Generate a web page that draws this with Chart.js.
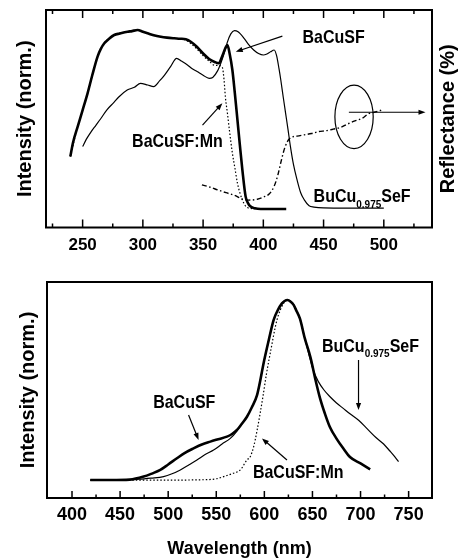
<!DOCTYPE html>
<html>
<head>
<meta charset="utf-8">
<script src="https://cdn.jsdelivr.net/npm/chart.js@4.4.1/dist/chart.umd.min.js"></script>
<style>
  html, body { margin: 0; padding: 0; background: #fff; }
  body { width: 461px; height: 560px; position: relative; overflow: hidden; }
  .box { position: absolute; left: 0; width: 461px; }
  #topBox { top: 0; height: 270px; }
  #botBox { top: 270px; height: 290px; }
</style>
</head>
<body>
<div class="box" id="topBox"><canvas id="topChart" width="461" height="270"></canvas></div>
<div class="box" id="botBox"><canvas id="botChart" width="461" height="290"></canvas></div>
<script>
// wavelength ticks
const topMajor = [250, 300, 350, 400, 450, 500];
const topMinor = [225, 275, 325, 375, 425, 475, 525];
const botMajor = [400, 450, 500, 550, 600, 650, 700, 750];
const botMinor = [425, 475, 525, 575, 625, 675, 725];

// top panel: excitation spectra [nm, norm. intensity]
const excBaCuSF = [[239.8,0.326],[242,0.39],[245.9,0.464],[250,0.54],[254.1,0.617],[258,0.7],[262.4,0.786],[265,0.82],[268,0.847],[272,0.868],[276.2,0.885],[281,0.892],[287.3,0.9],[291,0.903],[295.6,0.908],[300,0.9],[303.9,0.893],[309,0.884],[314.9,0.877],[320,0.873],[326,0.87],[331,0.868],[335.6,0.865],[339.8,0.854],[345,0.83],[350,0.8],[355,0.775],[360,0.76],[363,0.755],[366,0.79],[368.5,0.825],[370.2,0.839],[372,0.8],[374.3,0.724],[376.3,0.62],[378.5,0.495],[380.5,0.38],[382.6,0.265],[385.3,0.142],[387.5,0.11],[389.5,0.096],[393,0.088],[397.8,0.085],[405,0.085],[419,0.085]];
const excBaCuSFMn = [[239.8,0.326],[245.9,0.464],[254.1,0.617],[262.4,0.786],[268,0.847],[276.2,0.885],[287.3,0.9],[295.6,0.908],[303.9,0.893],[314.9,0.877],[326,0.87],[335.6,0.862],[340,0.845],[345,0.82],[350,0.79],[355,0.765],[360,0.745],[363,0.745],[366,0.735],[367.4,0.678],[368.5,0.6],[370.2,0.525],[372,0.44],[374.3,0.342],[376.5,0.27],[378.5,0.204],[380.5,0.16],[382.6,0.127],[385,0.1],[388,0.089],[395,0.086]];
const excBuCuSeF = [[250,0.372],[253,0.405],[257,0.44],[261,0.47],[265,0.5],[270,0.54],[276,0.575],[280,0.6],[287,0.632],[293,0.645],[298,0.663],[304,0.655],[309,0.648],[314,0.675],[318,0.701],[323,0.74],[328,0.778],[332,0.765],[337,0.747],[341,0.73],[345,0.717],[350,0.7],[355,0.686],[358,0.69],[362,0.72],[365,0.76],[368,0.81],[370,0.85],[373,0.89],[376,0.905],[379,0.9],[384,0.87],[388,0.84],[392,0.816],[396,0.8],[400,0.793],[403,0.798],[406,0.808],[409,0.816],[411,0.79],[413,0.73],[414.5,0.678],[416.5,0.6],[418.5,0.525],[420.5,0.45],[422.5,0.372],[425,0.29],[428,0.219],[431,0.16],[434,0.127],[438,0.1],[442,0.094],[450,0.09],[470,0.089],[500,0.089]];
const reflBuCuSeF = [[349,0.196],[356,0.185],[362,0.173],[369,0.16],[376,0.148],[382,0.132],[388,0.126],[395,0.13],[400,0.14],[405,0.155],[409,0.19],[412,0.24],[415,0.31],[418,0.37],[422,0.41],[428,0.42],[434,0.426],[440,0.432],[446,0.441],[452,0.445],[458,0.452],[464,0.46],[470,0.476],[476,0.49],[482,0.502],[487,0.522],[492,0.53],[499,0.541]];

// bottom panel: emission spectra [nm, norm. intensity]
const emBaCuSF = [[419,0.083],[440,0.083],[460,0.085],[474.5,0.099],[483,0.113],[491.8,0.13],[500,0.155],[509.1,0.184],[517,0.208],[526.4,0.23],[535,0.248],[543.8,0.261],[552,0.272],[561.1,0.284],[566,0.295],[571.5,0.315],[576,0.34],[581.9,0.376],[587,0.42],[592.3,0.475],[596,0.55],[599.2,0.624],[604,0.72],[609.6,0.824],[614,0.87],[618.3,0.901],[621,0.912],[624.2,0.917],[627,0.91],[630.4,0.894],[633,0.87],[637,0.83],[642,0.74],[648,0.65],[653,0.55],[658,0.46],[663,0.39],[668,0.33],[675,0.275],[682,0.23],[689,0.19],[700,0.16],[710,0.133]];
const emBaCuSFMn = [[419,0.083],[450,0.083],[500,0.083],[540,0.085],[550,0.089],[557.6,0.099],[566,0.112],[575,0.13],[581.9,0.176],[585.3,0.191],[589,0.24],[592.3,0.31],[598.5,0.469],[602,0.57],[606.1,0.67],[613.1,0.824],[620,0.901],[624.2,0.917],[627,0.91],[630.4,0.894],[633,0.87],[637,0.83],[642,0.74],[648,0.65],[653,0.55],[658,0.46],[663,0.39],[668,0.33],[675,0.275],[682,0.23],[689,0.19],[700,0.16],[710,0.133]];
const emBuCuSeF = [[419,0.083],[450,0.083],[470,0.087],[482,0.092],[495.2,0.099],[504,0.112],[512.6,0.13],[521,0.152],[529.9,0.176],[538,0.2],[547.2,0.222],[556,0.25],[564.6,0.276],[571.5,0.31],[576,0.34],[581.9,0.376],[587,0.42],[592.3,0.475],[596,0.55],[599.2,0.624],[604,0.72],[609.6,0.824],[614,0.87],[618.3,0.901],[621,0.912],[624.2,0.917],[627,0.91],[630.4,0.894],[633,0.87],[637,0.83],[642,0.74],[646,0.67],[651,0.59],[656,0.54],[662,0.5],[668,0.47],[675,0.44],[682,0.415],[689,0.39],[698,0.36],[707,0.32],[716,0.28],[724,0.25],[730,0.22],[734,0.2],[739.5,0.168]];

const FONT = '"Liberation Sans", Arial, Helvetica, sans-serif';
Chart.defaults.font.family = FONT;
Chart.defaults.color = '#000';

function xy(arr) {
    return arr.map(p => ({x: p[0], y: p[1]}));
}

function line(data, width, dash, axis) {
    return {
        data: xy(data),
        borderColor: '#000',
        borderWidth: width,
        borderDash: dash || [],
        pointRadius: 0,
        fill: false,
        cubicInterpolationMode: 'monotone',
        yAxisID: axis || 'y'
    };
}

// frame + inward tick marks
const frameTicks = {
    id: 'frameTicks',
    afterDraw(chart, args, o) {
        const {ctx, chartArea: a} = chart;
        const x = chart.scales.x;
        ctx.save();
        ctx.strokeStyle = '#000';
        ctx.lineWidth = 1.5;
        ctx.beginPath();
        const mark = (v, len) => {
            const px = x.getPixelForValue(v);
            ctx.moveTo(px, a.bottom);
            ctx.lineTo(px, a.bottom - len);
            if (o.top) {
                ctx.moveTo(px, a.top);
                ctx.lineTo(px, a.top + len);
            }
        };
        o.major.forEach(v => mark(v, o.majorLen));
        o.minor.forEach(v => mark(v, o.minorLen));
        ctx.stroke();
        ctx.lineWidth = 2;
        ctx.strokeRect(a.left, a.top, a.right - a.left, a.bottom - a.top);
        ctx.restore();
    }
};

function drawLabel(ctx, parts, x, y, align) {
    let w = 0;
    parts.forEach(p => {
        ctx.font = 'bold ' + p[1] + 'px ' + FONT;
        w += ctx.measureText(p[0]).width;
    });
    let cx = align === 'center' ? x - w / 2 : x;
    parts.forEach(p => {
        ctx.font = 'bold ' + p[1] + 'px ' + FONT;
        ctx.save();
        ctx.translate(cx, y + (p[2] || 0));
        ctx.scale(1, 1.12);
        ctx.textAlign = 'left';
        ctx.textBaseline = 'alphabetic';
        ctx.fillText(p[0], 0, 0);
        ctx.restore();
        cx += ctx.measureText(p[0]).width;
    });
}

function arrow(ctx, x0, y0, x1, y1) {
    const ang = Math.atan2(y1 - y0, x1 - x0);
    const L = 7, H = 2.6;
    ctx.lineWidth = 1.2;
    ctx.beginPath();
    ctx.moveTo(x0, y0);
    ctx.lineTo(x1 - Math.cos(ang) * L * 0.8, y1 - Math.sin(ang) * L * 0.8);
    ctx.stroke();
    ctx.beginPath();
    ctx.moveTo(x1, y1);
    ctx.lineTo(x1 - Math.cos(ang) * L - Math.sin(ang) * H, y1 - Math.sin(ang) * L + Math.cos(ang) * H);
    ctx.lineTo(x1 - Math.cos(ang) * L + Math.sin(ang) * H, y1 - Math.sin(ang) * L - Math.cos(ang) * H);
    ctx.closePath();
    ctx.fill();
}

const notes = {
    id: 'notes',
    afterDraw(chart, args, o) {
        const {ctx, chartArea: a} = chart;
        const X = v => chart.scales.x.getPixelForValue(v);
        const Y = v => chart.scales.y.getPixelForValue(v);
        ctx.save();
        ctx.fillStyle = '#000';
        ctx.strokeStyle = '#000';
        (o.labels || []).forEach(l => drawLabel(ctx, l.parts, X(l.x), Y(l.y), l.align));
        (o.arrows || []).forEach(r => arrow(ctx, X(r[0]), Y(r[1]), X(r[2]), Y(r[3])));
        if (o.ellipse) {
            const e = o.ellipse;
            ctx.lineWidth = 1.2;
            ctx.beginPath();
            ctx.ellipse(X(e.x), Y(e.y), Math.abs(X(e.x + e.rx) - X(e.x)), Math.abs(Y(e.y + e.ry) - Y(e.y)), 0, 0, Math.PI * 2);
            ctx.stroke();
        }
        if (o.sideTitle) {
            ctx.save();
            ctx.translate(a.right + 16, (a.top + a.bottom) / 2);
            ctx.rotate(-Math.PI / 2);
            ctx.font = 'bold 20px ' + FONT;
            ctx.textAlign = 'center';
            ctx.textBaseline = 'middle';
            ctx.fillText(o.sideTitle, 0, 0);
            ctx.restore();
        }
        ctx.restore();
    }
};

function xAxis(min, max, major, size, pad, height, title) {
    return {
        type: 'linear',
        position: 'bottom',
        min: min,
        max: max,
        grid: {display: false, drawTicks: false},
        border: {display: false},
        ticks: {font: {size: size, weight: 'bold'}, padding: pad, color: '#000', maxRotation: 0, autoSkip: false},
        title: title ? {display: true, text: title, font: {size: 18, weight: 'bold'}, padding: {top: 0, bottom: 0}, color: '#000'} : {display: false},
        afterBuildTicks: s => { s.ticks = major.map(v => ({value: v})); },
        afterFit: s => { s.height = height; }
    };
}

function yAxis(width, titlePad) {
    return {
        min: 0,
        max: 1,
        ticks: {display: false},
        grid: {display: false, drawTicks: false},
        border: {display: false},
        title: {display: true, text: 'Intensity (norm.)', font: {size: 20, weight: 'bold'}, padding: {top: titlePad, bottom: 0}, color: '#000'},
        afterFit: s => { s.width = width; }
    };
}

new Chart(document.getElementById('topChart'), {
    type: 'line',
    data: {
        datasets: [
            line(excBaCuSF, 2.6),
            line(excBuCuSeF, 1.2),
            line(excBaCuSFMn, 1.2, [1.5, 2]),
            line(reflBuCuSeF, 1.4, [5, 2.5, 1.5, 2.5], 'y1')
        ]
    },
    options: {
        responsive: false,
        animation: false,
        layout: {padding: {top: 10, left: 0, right: 0, bottom: 0}},
        plugins: {
            legend: {display: false},
            tooltip: {enabled: false},
            frameTicks: {major: topMajor, minor: topMinor, majorLen: 8, minorLen: 4, top: true},
            notes: {
                labels: [
                    {parts: [['BaCuSF', 16]], x: 458.3, y: 0.848, align: 'center'},
                    {parts: [['BaCuSF:Mn', 16]], x: 328.7, y: 0.372, align: 'center'},
                    {parts: [['BuCu', 16], ['0.975', 10, 6], ['SeF', 16]], x: 441.7, y: 0.117, align: 'left'}
                ],
                arrows: [
                    [415.8, 0.880, 377.1, 0.808],
                    [349.5, 0.471, 366, 0.571],
                    [471, 0.53, 534.6, 0.53]
                ],
                ellipse: {x: 475.3, y: 0.509, rx: 15.9, ry: 0.146},
                sideTitle: 'Reflectance (%)'
            }
        },
        scales: {
            x: xAxis(219.6, 540, topMajor, 17, 8, 42.5),
            y: yAxis(46, 13),
            y1: {
                position: 'right',
                min: 0,
                max: 1,
                ticks: {display: false},
                grid: {display: false, drawTicks: false},
                border: {display: false},
                afterFit: s => { s.width = 29; }
            }
        }
    },
    plugins: [frameTicks, notes]
});

new Chart(document.getElementById('botChart'), {
    type: 'line',
    data: {
        datasets: [
            line(emBaCuSF, 2.6),
            line(emBuCuSeF, 1.2),
            line(emBaCuSFMn, 1.2, [1.5, 2])
        ]
    },
    options: {
        responsive: false,
        animation: false,
        layout: {padding: {top: 12, left: 0, right: 29, bottom: 0}},
        plugins: {
            legend: {display: false},
            tooltip: {enabled: false},
            frameTicks: {major: botMajor, minor: botMinor, majorLen: 7, minorLen: 3.5, top: false},
            notes: {
                labels: [
                    {parts: [['BaCuSF', 16]], x: 516.7, y: 0.417, align: 'center'},
                    {parts: [['BaCuSF:Mn', 16]], x: 635.2, y: 0.093, align: 'center'},
                    {parts: [['BuCu', 16], ['0.975', 10, 5], ['SeF', 16]], x: 659.9, y: 0.676, align: 'left'}
                ],
                arrows: [
                    [521.2, 0.384, 531.6, 0.269],
                    [623.5, 0.176, 597.5, 0.276],
                    [697.9, 0.639, 697.9, 0.407]
                ]
            }
        },
        scales: {
            x: xAxis(374, 774.3, botMajor, 18, 6, 62, 'Wavelength (nm)'),
            y: yAxis(47, 16)
        }
    },
    plugins: [frameTicks, notes]
});
</script>
</body>
</html>
